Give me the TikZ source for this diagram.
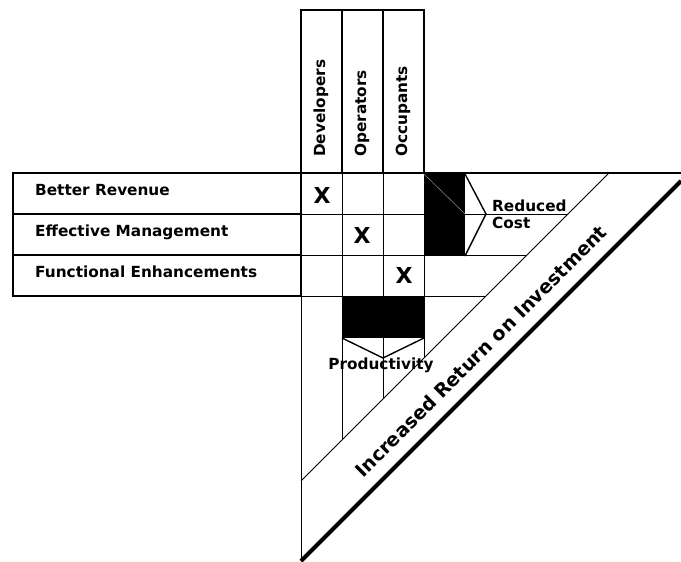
\documentclass[tikz,border=0pt]{standalone}
\usepackage{fontspec}
\setmainfont{DejaVu Sans}
\begin{document}
\begin{tikzpicture}[x=1pt,y=-1pt,
  lbl/.style={font=\bfseries\fontsize{15.3}{17}\selectfont, inner sep=0pt},
  xmark/.style={font=\bfseries\fontsize{22}{24}\selectfont, inner sep=0pt},
  big/.style={font=\bfseries\fontsize{19}{21}\selectfont, inner sep=0pt},
  thinln/.style={line width=1pt},
  midln/.style={line width=1.4pt},
  thickln/.style={line width=2pt}]
\useasboundingbox (0,0) rectangle (681,562);
% left row-label box
\draw[thickln] (13,173) rectangle (301,296);
\draw[midln] (13,214) -- (301,214) (13,255) -- (301,255);
% column header box
\draw[midln] (301,10) rectangle (424,173);
\draw[midln] (342,10) -- (342,173) (383,10) -- (383,173);
% cell grid
\draw[thinln] (342,173) -- (342,440) (383,173) -- (383,399) (424,173) -- (424,358);
\draw[thinln] (301,214) -- (568,214) (301,255) -- (527,255) (301,296) -- (486,296);
\draw[midln] (301,173) -- (681,173);
\draw[thinln] (301,296) -- (301,561);
% diagonals
\draw[thinln] (608,174) -- (301,481);
\draw[line width=4pt] (301,561) -- (681,181);
% black boxes
\fill (424,174) rectangle (465,256);
\draw[gray, line width=0.6pt] (424,174) -- (465,214);
\fill (342,296) rectangle (424,338);
% chevrons
\draw[midln, line join=miter] (465,174) -- (486,214) -- (465,256);
\draw[midln, line join=miter] (342,338) -- (383,358) -- (424,338);
% row labels
\node[lbl, anchor=base west] (r1) at (35,195.5) {Better Revenue};
\node[lbl, anchor=base west] (r2) at (35,236.5) {Effective Management};
\node[lbl, anchor=base west] (r3) at (35,277.5) {Functional Enhancements};
% column headers
\node[lbl, rotate=90, anchor=base west] (c1) at (325,157) {Developers};
\node[lbl, rotate=90, anchor=base west] (c2) at (366,157) {Operators};
\node[lbl, rotate=90, anchor=base west] (c3) at (407,157) {Occupants};
% marks
\node[xmark] (x1) at (322,195) {X};
\node[xmark] (x2) at (362,235) {X};
\node[xmark] (x3) at (404,275) {X};
% other labels
\node[lbl, anchor=north west, align=left] (rc) at (492,200) {Reduced\\Cost};
\node[lbl, anchor=base] (pr) at (381,369) {Productivity};
\node[big, rotate=45, anchor=base] (roi) at (486,356) {Increased Return on Investment};
\end{tikzpicture}
\end{document}
